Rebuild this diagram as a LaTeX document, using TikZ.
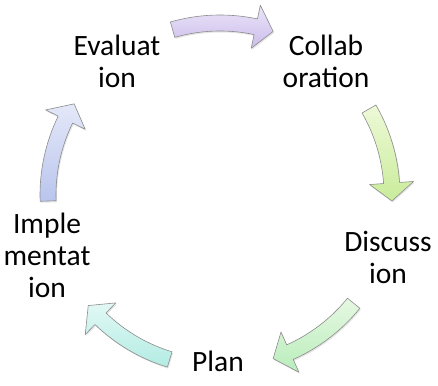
\documentclass[tikz,border=0pt]{standalone}
\usepackage{fontspec}
\setmainfont{Carlito}
\usetikzlibrary{shadows}

\definecolor{arrAd}{HTML}{CBBDEB}
\definecolor{arrAl}{HTML}{EBE4F8}
\definecolor{arrBd}{HTML}{C9EC9A}
\definecolor{arrBl}{HTML}{EEF9D8}
\definecolor{arrCd}{HTML}{B9EDBB}
\definecolor{arrCl}{HTML}{E6F8E2}
\definecolor{arrDd}{HTML}{B2ECE3}
\definecolor{arrDl}{HTML}{E2F8F5}
\definecolor{arrEd}{HTML}{BAC5EE}
\definecolor{arrEl}{HTML}{E4E8F8}

\tikzset{
  cyclabel/.style={align=center, font=\fontsize{29.5}{32}\selectfont, inner sep=0pt},
  cycarrow/.style={draw=black!45, line width=0.6pt, line join=round,
    drop shadow={opacity=0.2, shadow xshift=1pt, shadow yshift=-1.5pt}}
}

\begin{document}
\begin{tikzpicture}[x=1pt,y=1pt]
\useasboundingbox (0,0) rectangle (438,385);

\node[cyclabel] (eval) at (117,324) {Evaluat\\ion};
\node[cyclabel] (collab) at (326,324) {Collab\\oration};
\node[cyclabel] (disc) at (388,128) {Discuss\\ion};
\node[cyclabel] (plan) at (218,24) {Plan};
\node[cyclabel] (impl) at (47,130) {Imple\\mentat\\ion};

% block arrows round the cycle
\begin{scope}[shift={(220,190)}]
\foreach \a/\b/\cd/\cl in {106/72/arrAd/arrAl, 30/-2/arrBd/arrBl, -39/-72/arrCd/arrCl, -107/-140/arrDd/arrDl, 182/148/arrEd/arrEl} {%
	\pgfmathsetmacro{\neck}{\b+6}
	\path[cycarrow, top color=\cl, bottom color=\cd] (\a:180) arc[start angle=\a, end angle=\neck, radius=180] -- (\neck:194) -- (\b:172) -- (\neck:150) -- (\neck:164) arc[start angle=\neck, end angle=\a, radius=164] -- cycle;
}
\end{scope}

\end{tikzpicture}
\end{document}
